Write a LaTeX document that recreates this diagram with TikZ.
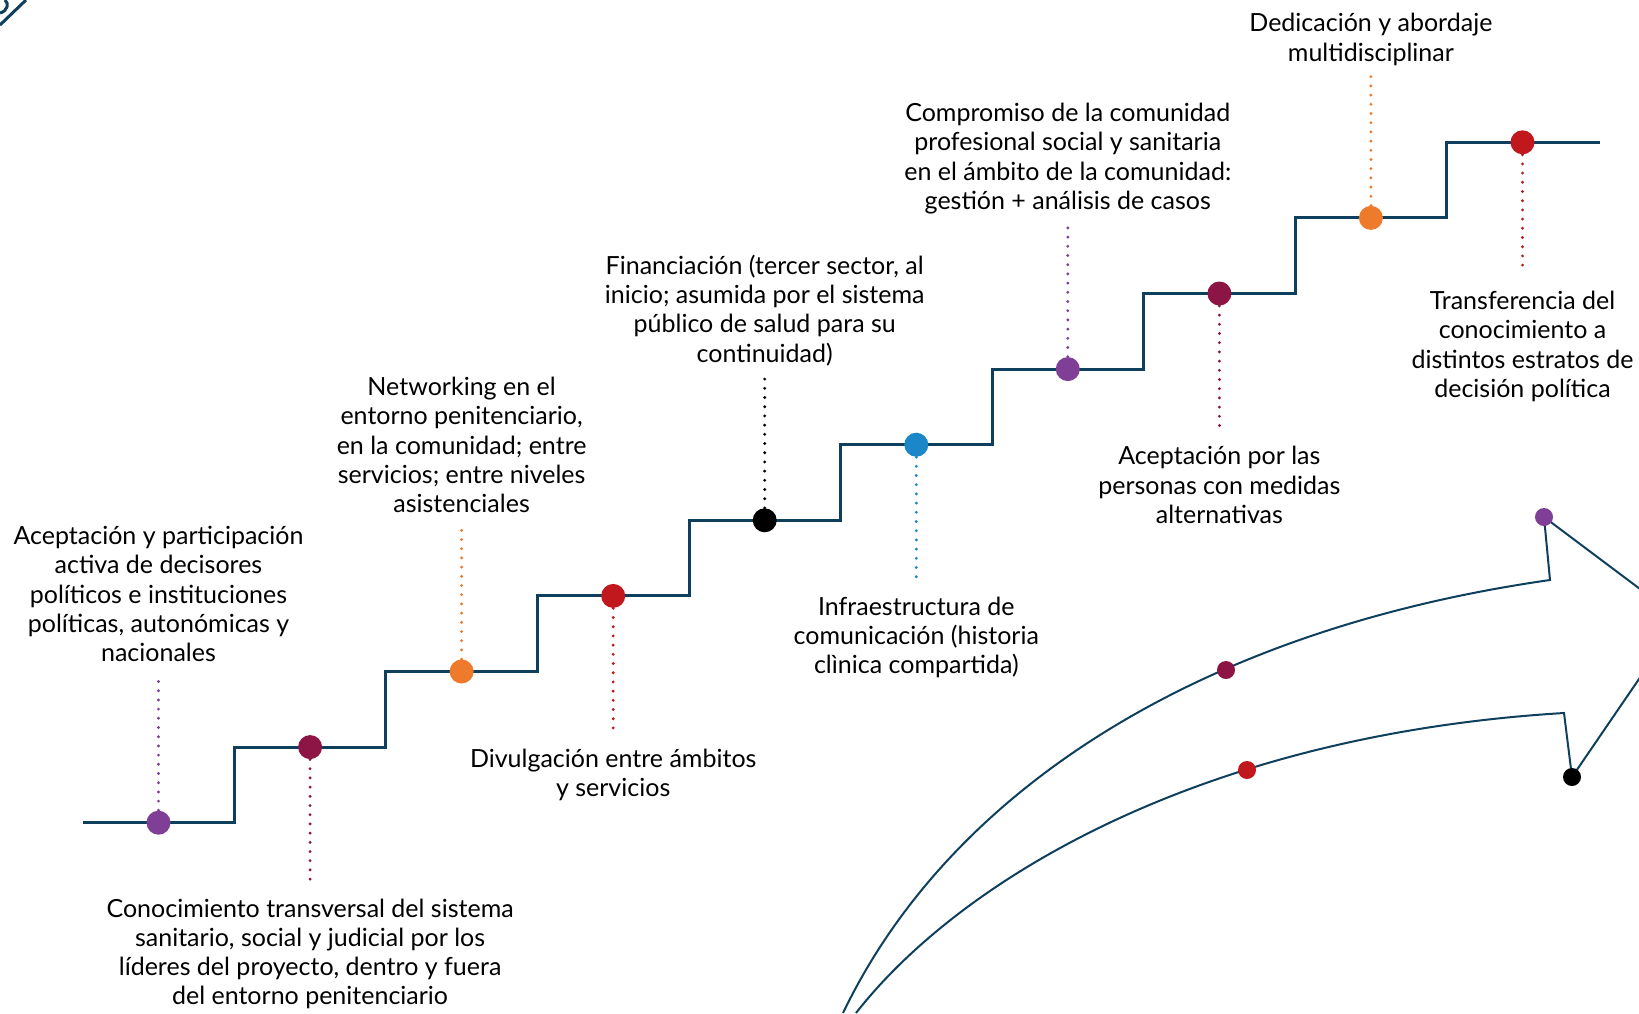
\documentclass[tikz,border=0pt]{standalone}
\usepackage{fontspec}
\setmainfont{Lato}
\usetikzlibrary{positioning}

\definecolor{stairblue}{RGB}{14,63,92}
\definecolor{dotpurple}{RGB}{127,63,150}
\definecolor{dotwine}{RGB}{140,21,69}
\definecolor{dotorange}{RGB}{238,123,44}
\definecolor{dotred}{RGB}{193,24,29}
\definecolor{dotblue}{RGB}{27,134,200}

\tikzset{
  milestone/.style={circle, fill=#1, minimum size=12pt, inner sep=0pt},
  smalldot/.style={circle, fill=#1, minimum size=9pt, inner sep=0pt},
  leader/.style={#1, line width=1.6pt, line cap=round, dash pattern=on 0pt off 4.6pt},
  caption/.style={align=center, font=\fontsize{12.5}{14.6}\selectfont, inner sep=0pt},
  stair/.style={stairblue, line width=1.5pt},
}

\begin{document}
\begin{tikzpicture}[x=0.5pt, y=-0.5pt]
    \useasboundingbox (0,0) rectangle (1639,1013);
    \clip (0,0) rectangle (1639,1013);

    % logo corner
    \draw[stairblue, line width=1.5pt] (0,25) -- (26,0);
    \draw[stairblue, line width=1.5pt] (0,13) .. controls (8,11) and (9,3) .. (5,0);

    % staircase
    \draw[stair] (83,822.7) -| (234.3,747.1) -| (385.9,671.5) -| (537.4,595.9)
        -| (689.0,520.3) -| (840.5,444.7) -| (992.1,369.1) -| (1143.6,293.5)
        -| (1295.2,217.9) -| (1446.7,142.3) -- (1600,142.3);

    % milestones
    \node[milestone=dotpurple] (d0) at (158.5,822.7) {};
    \node[milestone=dotwine]   (d1) at (310.1,747.1) {};
    \node[milestone=dotorange] (d2) at (461.6,671.5) {};
    \node[milestone=dotred]    (d3) at (613.2,595.9) {};
    \node[milestone=black]     (d4) at (764.7,520.3) {};
    \node[milestone=dotblue]   (d5) at (916.3,444.7) {};
    \node[milestone=dotpurple] (d6) at (1067.8,369.1) {};
    \node[milestone=dotwine]   (d7) at (1219.4,293.5) {};
    \node[milestone=dotorange] (d8) at (1370.9,217.9) {};
    \node[milestone=dotred]    (d9) at (1522.5,142.3) {};

    % leader ends
    \coordinate (e0) at (158.5,681);
    \coordinate (e1) at (310.1,888);
    \coordinate (e2) at (461.6,529);
    \coordinate (e3) at (613.2,737);
    \coordinate (e4) at (764.7,377);
    \coordinate (e5) at (916.3,585);
    \coordinate (e6) at (1067.8,226);
    \coordinate (e7) at (1219.4,434);
    \coordinate (e8) at (1370.9,74);
    \coordinate (e9) at (1522.5,269);

    \draw[leader=dotpurple] (d0) -- (e0);
    \draw[leader=dotwine]   (d1) -- (e1);
    \draw[leader=dotorange] (d2) -- (e2);
    \draw[leader=dotred]    (d3) -- (e3);
    \draw[leader=black]     (d4) -- (e4);
    \draw[leader=dotblue]   (d5) -- (e5);
    \draw[leader=dotpurple] (d6) -- (e6);
    \draw[leader=dotwine]   (d7) -- (e7);
    \draw[leader=dotorange] (d8) -- (e8);
    \draw[leader=dotred]    (d9) -- (e9);

    % captions
    \node[caption] (t0) at (158.5,594) {Aceptación y participación\\activa de decisores\\políticos e instituciones\\políticas, autonómicas y\\nacionales};
    \node[caption] (t1) at (310.1,954) {Conocimiento transversal del sistema\\sanitario, social y judicial por los\\líderes del proyecto, dentro y fuera\\del entorno penitenciario};
    \node[caption] (t2) at (461.6,445) {Networking en el\\entorno penitenciario,\\en la comunidad; entre\\servicios; entre niveles\\asistenciales};
    \node[caption] (t3) at (613.2,775) {Divulgación entre ámbitos\\y servicios};
    \node[caption] (t4) at (764.7,310.5) {Financiación (tercer sector, al\\inicio; asumida por el sistema\\público de salud para su\\continuidad)};
    \node[caption] (t5) at (916.3,637.5) {Infraestructura de\\comunicación (historia\\clìnica compartida)};
    \node[caption] (t6) at (1067.8,158.5) {Compromiso de la comunidad\\profesional social y sanitaria\\en el ámbito de la comunidad:\\gestión + análisis de casos};
    \node[caption] (t7) at (1219.4,485) {Aceptación por las\\personas con medidas\\alternativas};
    \node[caption] (t8) at (1370.9,39.5) {Dedicación y abordaje\\multidisciplinar};
    \node[caption] (t9) at (1522.5,346.5) {Transferencia del\\conocimiento a\\distintos estratos de\\decisión política};

    % curved arrow
    \draw[stairblue, line width=1pt] (843,1013) .. controls (950,790) and (1200,630) .. (1550,580)
        -- (1544,517) -- (1680,619) -- (1572,777) -- (1564,713)
        .. controls (1200,735) and (960,880) .. (856,1013);
    \node[smalldot=dotwine]   (a1) at (1226,670) {};
    \node[smalldot=dotred]    (a2) at (1247,770) {};
    \node[smalldot=dotpurple] (a3) at (1544,517) {};
    \node[smalldot=black]     (a4) at (1572,777) {};
\end{tikzpicture}
\end{document}
